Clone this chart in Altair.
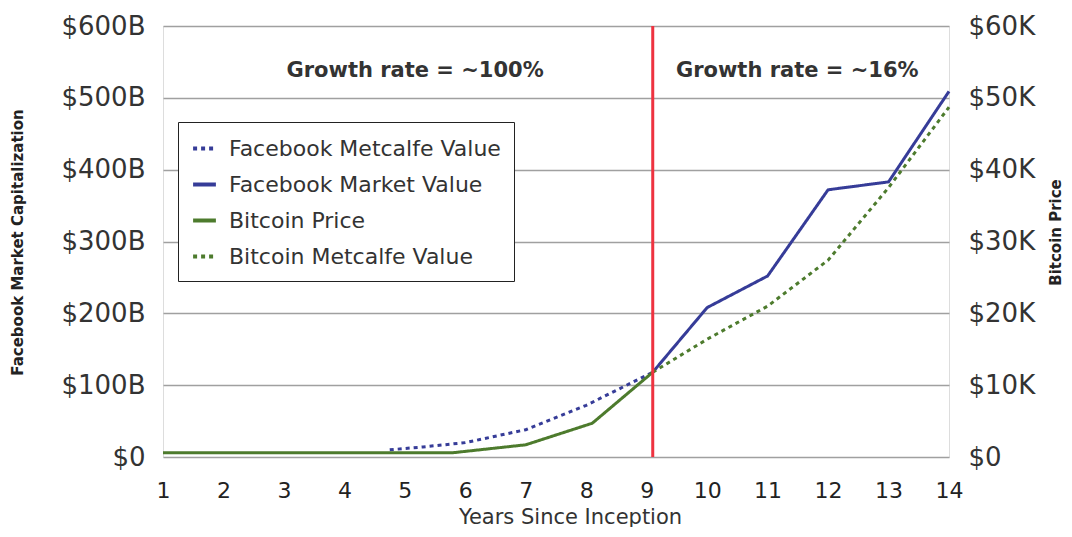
import altair as alt
import pandas as pd

# ---- data ----
series_names = ["Facebook Metcalfe Value", "Facebook Market Value",
                "Bitcoin Price", "Bitcoin Metcalfe Value"]

fb_metcalfe_x = [4.75, 5.3, 6.0, 7.0, 8.0, 9.1]
fb_metcalfe_b = [10, 14, 20, 38, 72, 118]

fb_market_x = [9.1, 10, 11, 12, 13, 14]
fb_market_b = [118, 208, 252, 372, 383, 509]

btc_price_x = [1, 2, 3, 4, 5, 5.8, 7.0, 8.1, 9.1]
btc_price_k = [0.6, 0.6, 0.6, 0.6, 0.6, 0.6, 1.7, 4.7, 11.8]

btc_metcalfe_x = [9.1, 10, 11, 12, 13, 14]
btc_metcalfe_k = [11.8, 16.4, 21.0, 27.4, 37.5, 48.7]

x_ticks = list(range(1, 15))
left_ticks = [0, 100, 200, 300, 400, 500, 600]
right_ticks = [0, 10000, 20000, 30000, 40000, 50000, 60000]

split_year = [9.1]
annotation_text = ["Growth rate = ~100%", "Growth rate = ~16%"]
annotation_x = [5.17, 11.49]
annotation_y = [538, 538]

colors = ["#363c98", "#363c98", "#4d7b2d", "#4d7b2d"]
dashes = [[4, 4], [1, 0], [1, 0], [4, 4]]

FONT = "DejaVu Sans"
TXT = "#333333"

# ---- tables ----
fb_df = pd.concat([
    pd.DataFrame({"series": series_names[0], "year": fb_metcalfe_x, "value": fb_metcalfe_b}),
    pd.DataFrame({"series": series_names[1], "year": fb_market_x, "value": fb_market_b}),
])
btc_df = pd.concat([
    pd.DataFrame({"series": series_names[2], "year": btc_price_x,
                  "value": [v * 1000 for v in btc_price_k]}),
    pd.DataFrame({"series": series_names[3], "year": btc_metcalfe_x,
                  "value": [v * 1000 for v in btc_metcalfe_k]}),
])
ann_df = pd.DataFrame({"label": annotation_text, "x": annotation_x, "y": annotation_y})
split_df = pd.DataFrame({"year": split_year})

x_scale = alt.Scale(domain=[1, 14], nice=False, zero=False)
x_axis = alt.Axis(values=x_ticks, format="d", labelOverlap=False, labelFlush=False,
                  title="Years Since Inception", grid=False, domain=False,
                  ticks=False, labelFontSize=22, labelFont=FONT, labelColor="#222",
                  labelPadding=23, titleFontSize=21, titleFont=FONT, titleFontWeight="normal",
                  titleColor=TXT, titlePadding=5, titleX=407)

legend = alt.Legend(title=None, orient="none", legendX=15, legendY=96,
                    symbolType="stroke", symbolStrokeWidth=4, symbolSize=520,
                    labelFontSize=22, labelFont=FONT, labelColor=TXT, labelOffset=11,
                    rowPadding=11, padding=13, strokeColor="#222", fillColor="white",
                    labelLimit=400)
color_enc = alt.Color("series:N", scale=alt.Scale(domain=series_names, range=colors), legend=legend)
dash_enc = alt.StrokeDash("series:N", scale=alt.Scale(domain=series_names, range=dashes), legend=legend)

left_axis = alt.Axis(values=left_ticks, orient="left",
                     labelExpr="datum.value == 0 ? '$0' : '$' + datum.value + 'B'",
                     labelFontSize=26, labelFont=FONT, labelColor=TXT, labelPadding=18,
                     ticks=False, domain=False, grid=True, gridColor="#a0a0a0", gridWidth=1.6,
                     title="Facebook Market Capitalization", titleFontSize=15, titleFont=FONT,
                     titleFontWeight="bold", titleColor="#222", titleAngle=270,
                     titleX=-146, titleY=216, titleBaseline="middle")
right_axis = alt.Axis(values=right_ticks, orient="right",
                      labelExpr="datum.value == 0 ? '$0' : '$' + (datum.value / 1000) + 'K'",
                      labelFontSize=26, labelFont=FONT, labelColor=TXT, labelPadding=19,
                      ticks=False, domain=False, grid=False,
                      title="Bitcoin Price", titleFontSize=15, titleFont=FONT,
                      titleFontWeight="bold", titleColor="#222", titleAngle=270,
                      titleX=106, titleY=206, titleBaseline="middle")

fb = alt.Chart(fb_df).mark_line(strokeWidth=3).encode(
    x=alt.X("year:Q", scale=x_scale, axis=x_axis),
    y=alt.Y("value:Q", scale=alt.Scale(domain=[0, 600], nice=False), axis=left_axis),
    color=color_enc, strokeDash=dash_enc, detail="series:N",
)
btc = alt.Chart(btc_df).mark_line(strokeWidth=3).encode(
    x=alt.X("year:Q", scale=x_scale),
    y=alt.Y("value:Q", scale=alt.Scale(domain=[0, 60000], nice=False), axis=right_axis),
    color=color_enc, strokeDash=dash_enc, detail="series:N",
)
rule = alt.Chart(split_df).mark_rule(color="#ee3340", strokeWidth=3).encode(
    x=alt.X("year:Q", scale=x_scale),
)
text = alt.Chart(ann_df).mark_text(font=FONT, fontSize=21, fontWeight="bold", color=TXT,
                                    align="center", baseline="middle").encode(
    x=alt.X("x:Q", scale=x_scale),
    y=alt.Y("y:Q", scale=alt.Scale(domain=[0, 600], nice=False), axis=None),
    text="label:N",
)

chart = alt.layer(fb, btc, rule, text).resolve_scale(y="independent").properties(
    width=786, height=431,
    autosize=alt.AutoSizeParams(type="none"),
    padding={"left": 155, "top": 18, "right": 115, "bottom": 70},
).configure_view(stroke="#333333", strokeWidth=2.5).configure(background="white")

chart.save("out.html", embed_options={"renderer": "svg", "actions": False})
